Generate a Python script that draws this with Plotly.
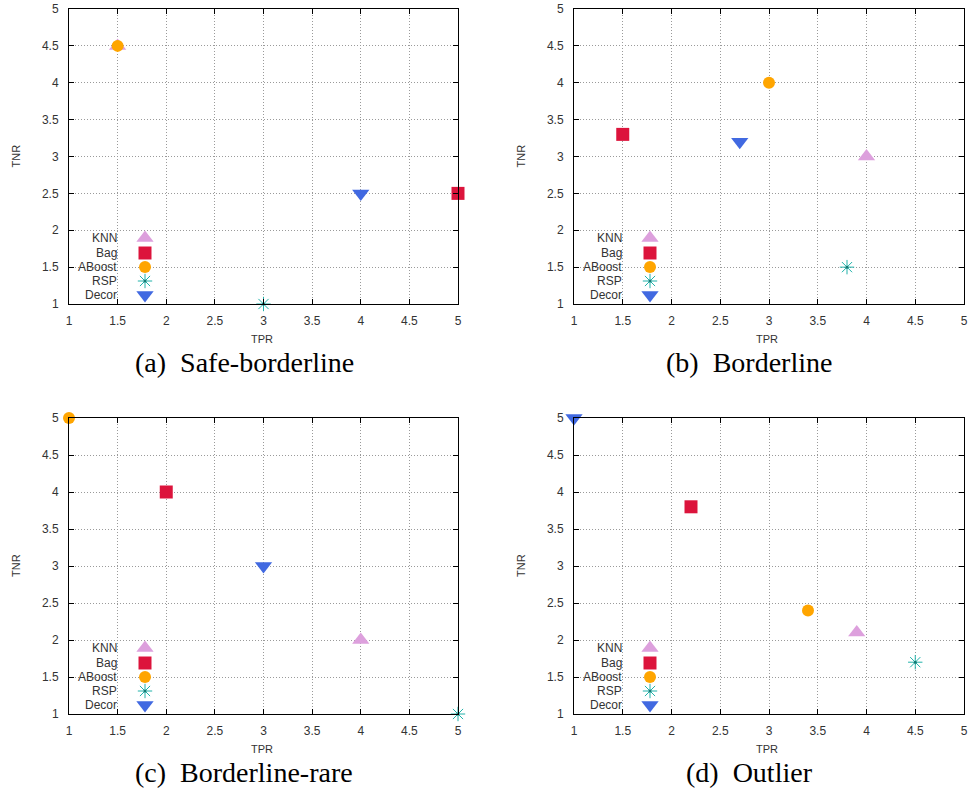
import plotly.graph_objects as go

# ---------------- data ----------------
methods = ["KNN", "Bag", "ABoost", "RSP", "Decor"]
panel_titles = ["(a)\u00a0\u00a0Safe-borderline", "(b)\u00a0\u00a0Borderline",
                "(c)\u00a0\u00a0Borderline-rare", "(d)\u00a0\u00a0Outlier"]

tpr_a = [1.5, 5.0, 1.5, 3.0, 4.0]
tnr_a = [4.5, 2.5, 4.5, 1.0, 2.5]

tpr_b = [4.0, 1.5, 3.0, 3.8, 2.7]
tnr_b = [3.0, 3.3, 4.0, 1.5, 3.2]

tpr_c = [4.0, 2.0, 1.0, 5.0, 3.0]
tnr_c = [2.0, 4.0, 5.0, 1.0, 3.0]

tpr_d = [3.9, 2.2, 3.4, 4.5, 1.0]
tnr_d = [2.1, 3.8, 2.4, 1.7, 5.0]

tick_vals = [1, 1.5, 2, 2.5, 3, 3.5, 4, 4.5, 5]
tick_text = ["1", "1.5", "2", "2.5", "3", "3.5", "4", "4.5", "5"]

panels_tpr = [tpr_a, tpr_b, tpr_c, tpr_d]
panels_tnr = [tnr_a, tnr_b, tnr_c, tnr_d]

# ---------------- styles ----------------
symbols = ["triangle-up", "square", "circle", "asterisk-open", "triangle-down"]
colors = ["#DDA0DD", "#DC143C", "#FFA500", "#20B2AA", "#4169E1"]
sizes = [15, 13, 12, 12, 15]

W, H = 968, 789
# plot area boxes in window pixels: (left, right, top, bottom)
boxes = [(69, 458, 9, 304), (574, 964, 9, 304),
         (69, 458, 418, 714), (574, 964, 418, 714)]
sub_cx = [244, 749, 244, 749]


def px(xw):
    return xw / W


def py(yw):
    return 1 - yw / H


TICK_FONT = dict(family="Liberation Sans, Arial, sans-serif", size=12, color="#333333")

fig = go.Figure()
layout = dict(width=W, height=H, margin=dict(l=0, r=0, t=0, b=0, pad=0, autoexpand=False),
              paper_bgcolor="white", plot_bgcolor="white", showlegend=False)
annotations = []
shapes = []

for i in range(4):
    n = i + 1
    on = i + 5
    l, r, t, b = boxes[i]
    xd = [px(l), px(r)]
    yd = [py(b), py(t)]
    sx = "" if n == 1 else str(n)
    osx = str(on)

    common = dict(range=[1, 5], tickmode="array", tickvals=tick_vals, ticktext=tick_text,
                  ticks="inside", ticklen=5, tickcolor="black", tickwidth=1,
                  showline=True, linecolor="black", linewidth=1, mirror="ticks",
                  showgrid=True, gridcolor="#9a9a9a", gridwidth=1, griddash="1px,2px",
                  zeroline=False, tickfont=TICK_FONT, fixedrange=True, automargin=False)
    layout["xaxis" + sx] = dict(domain=xd, anchor="y" + sx, ticklabelstandoff=6, **common)
    layout["yaxis" + sx] = dict(domain=yd, anchor="x" + sx, ticklabelstandoff=7, **common)
    # overlay axes in pixel units for the key
    layout["xaxis" + osx] = dict(overlaying="x" + sx, anchor="y" + osx, range=[0, r - l],
                                 visible=False, fixedrange=True, automargin=False)
    layout["yaxis" + osx] = dict(overlaying="y" + sx, anchor="x" + osx, range=[0, b - t],
                                 visible=False, fixedrange=True, automargin=False)

    # data points
    for k, m in enumerate(methods):
        fig.add_trace(go.Scatter(
            x=[panels_tpr[i][k]], y=[panels_tnr[i][k]], mode="markers", name=m,
            xaxis="x" + sx, yaxis="y" + sx, cliponaxis=False,
            marker=dict(symbol=symbols[k], size=sizes[k], color=colors[k], opacity=1,
                        line=dict(width=1 if "open" in symbols[k] else 0, color=colors[k]))))
        if "asterisk" in symbols[k]:
            fig.add_trace(go.Scatter(
                x=[panels_tpr[i][k]], y=[panels_tnr[i][k]], mode="markers",
                xaxis="x" + sx, yaxis="y" + sx, cliponaxis=False, hoverinfo="skip",
                marker=dict(symbol="circle", size=3, color="#127a74", opacity=1)))

    # key (text, then symbol to the right)
    key_rows = [66, 51, 37, 23, 9]
    for k, m in enumerate(methods):
        fig.add_trace(go.Scatter(
            x=[76], y=[key_rows[k]], mode="markers", xaxis="x" + osx, yaxis="y" + osx,
            cliponaxis=False, hoverinfo="skip",
            marker=dict(symbol=symbols[k], size=sizes[k], color=colors[k], opacity=1,
                        line=dict(width=1 if "open" in symbols[k] else 0, color=colors[k]))))
        if "asterisk" in symbols[k]:
            fig.add_trace(go.Scatter(
                x=[76], y=[key_rows[k]], mode="markers", xaxis="x" + osx, yaxis="y" + osx,
                cliponaxis=False, hoverinfo="skip",
                marker=dict(symbol="circle", size=3, color="#127a74", opacity=1)))
        annotations.append(dict(x=px(l + 50), y=py(b - key_rows[k]), xref="paper", yref="paper",
                                text=m, showarrow=False, xanchor="right", yanchor="middle",
                                font=TICK_FONT))
    # opaque key background
    shapes.append(dict(type="rect", xref="paper", yref="paper",
                       x0=px(l + 0.5), x1=px(l + 101), y0=py(b - 0.5), y1=py(b - 71),
                       fillcolor="white", line=dict(width=0), layer="between"))

    # axis titles
    annotations.append(dict(x=px((l + r) / 2 - 2), y=py(b + 35), xref="paper", yref="paper",
                            text="TPR", showarrow=False, xanchor="center", yanchor="middle",
                            font=dict(family="Liberation Sans, Arial, sans-serif", size=11, color="#333333")))
    annotations.append(dict(x=px(l - 53), y=py((t + b) / 2), xref="paper", yref="paper",
                            text="TNR", showarrow=False, textangle=-90, xanchor="center", yanchor="middle",
                            font=dict(family="Liberation Sans, Arial, sans-serif", size=11, color="#333333")))
    # sub-captions
    annotations.append(dict(x=px(sub_cx[i]), y=py(b + 58), xref="paper", yref="paper",
                            text=panel_titles[i], showarrow=False, xanchor="center", yanchor="middle",
                            font=dict(family="Liberation Serif, Times New Roman, serif", size=28,
                                      color="black")))

layout["annotations"] = annotations
layout["shapes"] = shapes
fig.update_layout(**layout)
fig.write_html("out.html", config={"displayModeBar": False},
               post_script="document.body.style.margin='0px';document.body.style.overflow='hidden';")
